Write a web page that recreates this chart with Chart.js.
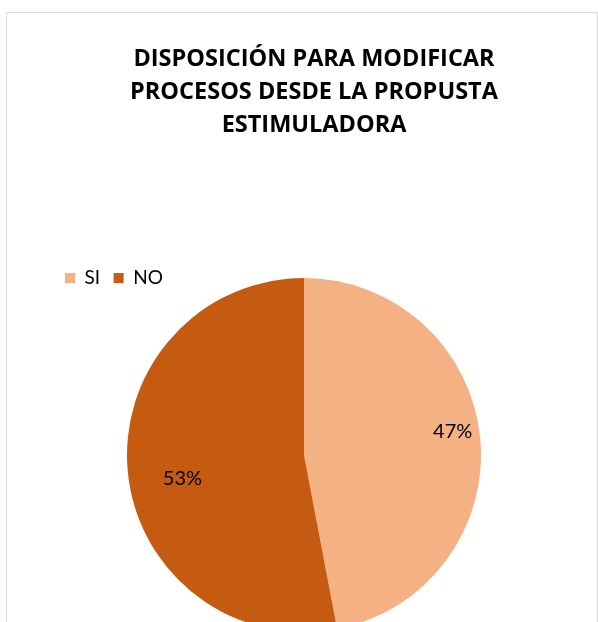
<!DOCTYPE html>
<html>
<head>
<meta charset="utf-8">
<script src="https://cdn.jsdelivr.net/npm/chart.js@4.4.0/dist/chart.umd.min.js"></script>
<style>
  html, body { margin: 0; padding: 0; background: #fff; overflow: hidden; }
  .wrap { position: relative; width: 598px; height: 622px; }
  .frame { position: absolute; left: 6px; top: 12px; width: 590px; height: 640px; border: 1px solid #d9d9d9; }
  #canvas { position: absolute; left: 0; top: 0; }
</style>
</head>
<body>
<div class="wrap">
  <div class="frame"></div>
  <canvas id="canvas" width="598" height="622"></canvas>
</div>
<script>
/* datos */
const categorias = ['SI', 'NO'];
const valores = [47, 53];
const colores = ['#F4B183', '#C55A11'];
const titulo = ['DISPOSICIÓN PARA MODIFICAR', 'PROCESOS DESDE LA PROPUSTA', 'ESTIMULADORA'];

/* donde va cada etiqueta: [fraccion del radio, fraccion del angulo del sector] */
const posEtiqueta = [[0.85, 0.48], [0.70, 0.47]];

const etiquetasPie = {
  id: 'etiquetasPie',
  afterLayout(chart) {
    // el titulo en el original esta un poco corrido a la derecha
    chart.titleBlock.left += 10;
    chart.titleBlock.right += 10;
  },
  afterDatasetsDraw(chart) {
    const ctx = chart.ctx;
    const meta = chart.getDatasetMeta(0);
    const total = valores.reduce((a, b) => a + b, 0);
    ctx.save();
    ctx.font = '20px Lato';
    ctx.fillStyle = '#000';
    ctx.textAlign = 'center';
    ctx.textBaseline = 'middle';
    meta.data.forEach((arc, i) => {
      const p = arc.getProps(['x', 'y', 'startAngle', 'endAngle', 'outerRadius']);
      const ang = p.startAngle + (p.endAngle - p.startAngle) * posEtiqueta[i][1];
      const r = p.outerRadius * posEtiqueta[i][0];
      const txt = Math.round(valores[i] / total * 100) + '%';
      ctx.fillText(txt, p.x + Math.cos(ang) * r, p.y + Math.sin(ang) * r);
    });
    ctx.restore();
  }
};

const ctx = document.getElementById('canvas');
new Chart(ctx, {
  type: 'pie',
  data: {
    labels: categorias,
    datasets: [{
      data: valores,
      backgroundColor: colores,
      borderWidth: 0,
      radius: 177,
      clip: false
    }]
  },
  options: {
    responsive: false,
    animation: false,
    devicePixelRatio: 1,
    layout: {
      padding: { left: 51.5, right: 41.5, top: 0, bottom: 9.5 }
    },
    plugins: {
      title: {
        display: true,
        text: titulo,
        color: '#000',
        font: { family: 'Open Sans', size: 23.5, weight: 'bold', lineHeight: 1.404 },
        padding: { top: 43, bottom: 113 }
      },
      legend: {
        display: true,
        position: 'top',
        align: 'start',
        labels: {
          color: '#000',
          boxWidth: 10,
          boxHeight: 10,
          padding: 13.5,
          font: { family: 'Lato', size: 19 }
        }
      },
      tooltip: { enabled: false }
    }
  },
  plugins: [etiquetasPie]
});
</script>
</body>
</html>
